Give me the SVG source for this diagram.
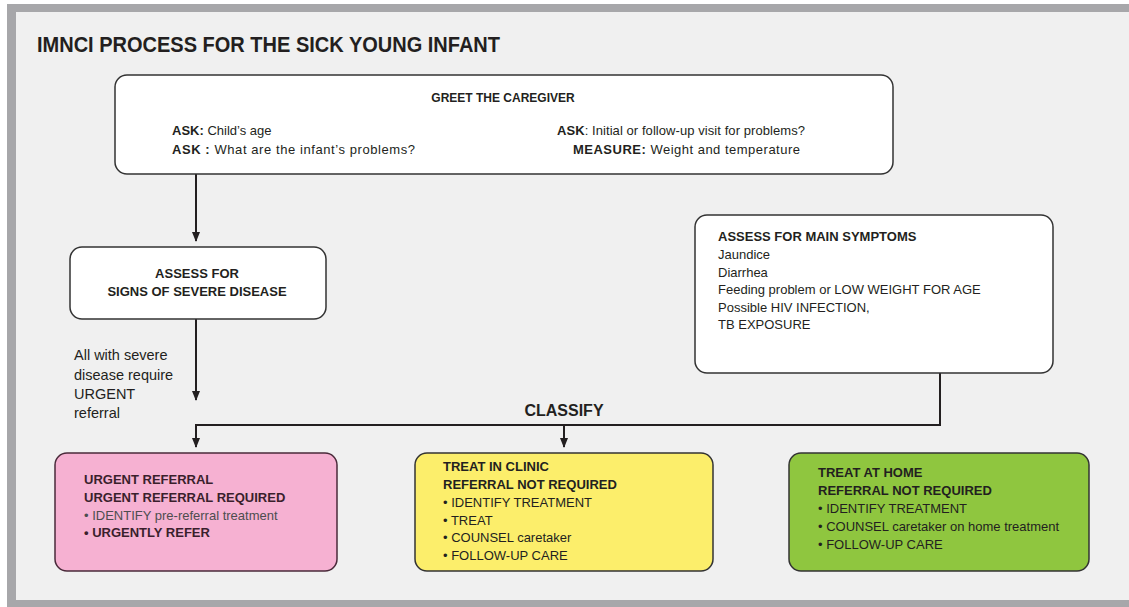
<svg xmlns="http://www.w3.org/2000/svg" width="1129" height="607" viewBox="0 0 1129 607">
<style>
text{font-family:"Liberation Sans",Arial,sans-serif;fill:#231f20}
.b{font-weight:bold}
.box{stroke:#333;stroke-width:1.5}
.ln{stroke:#231f20;stroke-width:2;fill:none}
.t13{font-size:13px}
.t12{font-size:12px}
.t14{font-size:14.5px}
</style>
<defs>
<marker id="ah" markerWidth="10" markerHeight="8" refX="9" refY="4" orient="auto" markerUnits="userSpaceOnUse">
<path d="M0,0 L10,4 L0,8 Z" fill="#231f20"/>
</marker>
</defs>
<rect x="0" y="0" width="1129" height="607" fill="#ffffff"/>
<rect x="7" y="4" width="1122" height="603" fill="#a7a7aa"/>
<rect x="16" y="12" width="1113" height="588" fill="#f0f0f0"/>
<text x="37" y="52" class="b" font-size="22" textLength="463" lengthAdjust="spacingAndGlyphs">IMNCI PROCESS FOR THE SICK YOUNG INFANT</text>

<g id="connectors">
<line class="ln" x1="196" y1="174" x2="196" y2="241" marker-end="url(#ah)"/>
<line class="ln" x1="196" y1="319" x2="196" y2="400" marker-end="url(#ah)"/>
<polyline class="ln" points="940,373 940,425 196,425 196,447" marker-end="url(#ah)"/>
<line class="ln" x1="564" y1="425" x2="564" y2="447" marker-end="url(#ah)"/>
<text x="564" y="416" class="b" font-size="16" text-anchor="middle">CLASSIFY</text>
<g class="t14" fill="#231f20">
<text x="74" y="360">All with severe</text>
<text x="74" y="380">disease require</text>
<text x="74" y="399">URGENT</text>
<text x="74" y="418">referral</text>
</g>
</g>

<g id="greet">
<rect class="box" x="115" y="75" width="778" height="99" rx="12" fill="#ffffff"/>
<text x="503" y="102" class="b t12" text-anchor="middle">GREET THE CAREGIVER</text>
<text x="172" y="135" class="t13"><tspan class="b">ASK:</tspan> Child’s age</text>
<text x="172" y="154" class="t13" textLength="243"><tspan class="b">ASK :</tspan> What are the infant’s problems?</text>
<text x="557" y="135" class="t13" textLength="248"><tspan class="b">ASK</tspan>: Initial or follow-up visit for problems?</text>
<text x="573" y="154" class="t13" textLength="227"><tspan class="b">MEASURE:</tspan>  Weight and temperature</text>
</g>

<g id="severe">
<rect class="box" x="70" y="247" width="256" height="72" rx="12" fill="#ffffff"/>
<text x="197" y="278" class="b t13" text-anchor="middle">ASSESS FOR</text>
<text x="197" y="296" class="b t13" text-anchor="middle">SIGNS OF SEVERE DISEASE</text>
</g>

<g id="main">
<rect class="box" x="695" y="215" width="358" height="158" rx="12" fill="#ffffff"/>
<g class="t13">
<text x="718" y="241" class="b">ASSESS FOR MAIN  SYMPTOMS</text>
<text x="718" y="259">Jaundice</text>
<text x="718" y="277">Diarrhea</text>
<text x="718" y="294">Feeding problem or LOW WEIGHT FOR AGE</text>
<text x="718" y="312">Possible HIV INFECTION,</text>
<text x="718" y="329">TB EXPOSURE</text>
</g>
</g>

<g id="urgent">
<rect x="55" y="453" width="282" height="118" rx="12" fill="#f6b1d2" stroke="#4a2a3a" stroke-width="1.5"/>
<g class="t13" style="fill:#3a1f2c">
<text x="84" y="484" class="b" style="fill:#3a1f2c">URGENT REFERRAL</text>
<text x="84" y="502" class="b" style="fill:#3a1f2c">URGENT REFERRAL REQUIRED</text>
<text x="84" y="520" style="fill:#4d4d4f">•  IDENTIFY  pre-referral treatment</text>
<text x="84" y="537" class="b" style="fill:#3a1f2c">•  URGENTLY REFER</text>
</g>
</g>

<g id="clinic">
<rect class="box" x="415" y="453" width="298" height="118" rx="12" fill="#fcee6b"/>
<g class="t13">
<text x="443" y="471" class="b">TREAT IN CLINIC</text>
<text x="443" y="489" class="b">REFERRAL NOT REQUIRED</text>
<text x="443" y="507">•  IDENTIFY  TREATMENT</text>
<text x="443" y="525">• TREAT</text>
<text x="443" y="542">• COUNSEL caretaker</text>
<text x="443" y="560">•   FOLLOW-UP CARE</text>
</g>
</g>

<g id="home">
<rect class="box" x="789" y="453" width="300" height="118" rx="12" fill="#8fc63f"/>
<g class="t13">
<text x="818" y="477" class="b">TREAT AT HOME</text>
<text x="818" y="495" class="b">REFERRAL NOT REQUIRED</text>
<text x="818" y="513">•  IDENTIFY  TREATMENT</text>
<text x="818" y="531">• COUNSEL caretaker on home treatment</text>
<text x="818" y="549">•  FOLLOW-UP CARE</text>
</g>
</g>
</svg>
